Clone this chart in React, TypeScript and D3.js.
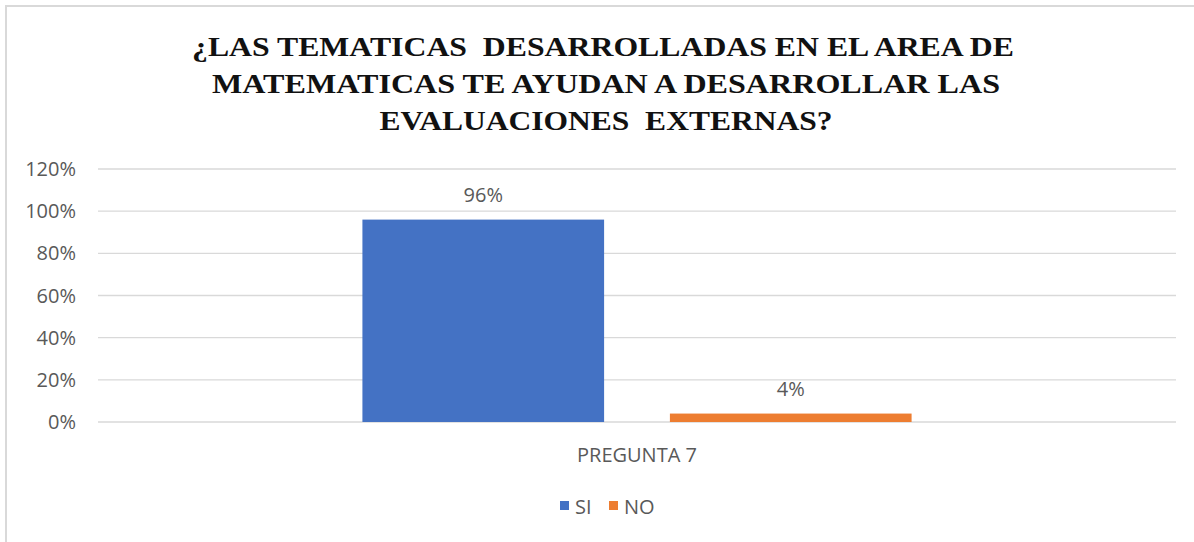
import React from "react";
import * as d3 from "d3";

const titleLines = [
  "¿LAS TEMATICAS  DESARROLLADAS EN EL AREA DE",
  "MATEMATICAS TE AYUDAN A DESARROLLAR LAS",
  "EVALUACIONES  EXTERNAS?",
];
const titleWidths = [822, 788, 453];
const categories = ["PREGUNTA 7"];
const seriesNames = ["SI", "NO"];
const seriesColors = ["#4472C4", "#ED7D31"];
const siValues = [0.96];
const noValues = [0.04];
const yTicks = [0, 0.2, 0.4, 0.6, 0.8, 1.0, 1.2];

const W = 1194;
const H = 542;
const plotLeft = 98;
const plotRight = 1176;
const plotTop = 169;
const plotBottom = 422;

const sans = "'Open Sans', 'Noto Sans', sans-serif";
const textGray = "#595959";
const fs = 20;

export default function App() {
  const y = d3.scaleLinear().domain([0, 1.2]).range([plotBottom, plotTop]);
  const x0 = d3.scaleBand<string>().domain(categories).range([plotLeft, plotRight]).padding(0.325);
  const x1 = d3
    .scaleBand<string>()
    .domain(seriesNames)
    .range([0, x0.bandwidth()])
    .paddingInner(0.214)
    .paddingOuter(0);
  const fmt = d3.format(".0%");
  const series = [siValues, noValues];
  const titleCenters = [603, 606, 606];

  return (
    <svg
      width={W}
      height={H}
      style={{ position: "absolute", left: 0, top: 0, background: "#fff" }}
    >
      <rect x={0} y={0} width={W} height={H} fill="#fff" />
      <rect x={6} y={6} width={W + 20} height={H + 20} fill="none" stroke="#d9d9d9" strokeWidth={2} />
      {titleLines.map((t, i) => (
        <text
          key={i}
          x={titleCenters[i]}
          y={56 + i * 37}
          textAnchor="middle"
          fontFamily="'Liberation Serif', 'Times New Roman', serif"
          fontWeight="bold"
          fontSize={28}
          fill="#111"
          textLength={titleWidths[i]}
          lengthAdjust="spacingAndGlyphs"
          style={{ whiteSpace: "pre" }}
        >
          {t}
        </text>
      ))}
      {yTicks.map((t) => (
        <g key={t}>
          <line x1={plotLeft} x2={plotRight} y1={y(t)} y2={y(t)} stroke="#d9d9d9" strokeWidth={1.3} />
          <text
            x={76}
            y={y(t)}
            dy="0.35em"
            textAnchor="end"
            fontFamily={sans}
            fontSize={fs}
            fill={textGray}
          >
            {fmt(t)}
          </text>
        </g>
      ))}
      {categories.map((c, ci) => (
        <g key={c} transform={`translate(${x0(c)},0)`}>
          {seriesNames.map((s, si) => {
            const v = series[si][ci];
            const bx = x1(s)!;
            return (
              <g key={s}>
                <rect
                  x={bx}
                  y={y(v)}
                  width={x1.bandwidth()}
                  height={y(0) - y(v)}
                  fill={seriesColors[si]}
                />
                <text
                  x={bx + x1.bandwidth() / 2}
                  y={y(v) - 18}
                  textAnchor="middle"
                  fontFamily={sans}
                  fontSize={fs}
                  fill={textGray}
                >
                  {fmt(v)}
                </text>
              </g>
            );
          })}
          <text
            x={x0.bandwidth() / 2}
            y={462}
            textAnchor="middle"
            fontFamily={sans}
            fontSize={fs}
            fill={textGray}
          >
            {c}
          </text>
        </g>
      ))}
      <g>
        {seriesNames.map((s, i) => {
          const lx = 560 + i * 49;
          return (
            <g key={s}>
              <rect x={lx} y={501} width={9} height={9} fill={seriesColors[i]} />
              <text x={lx + 15} y={514} fontFamily={sans} fontSize={fs} fill={textGray}>
                {s}
              </text>
            </g>
          );
        })}
      </g>
    </svg>
  );
}
